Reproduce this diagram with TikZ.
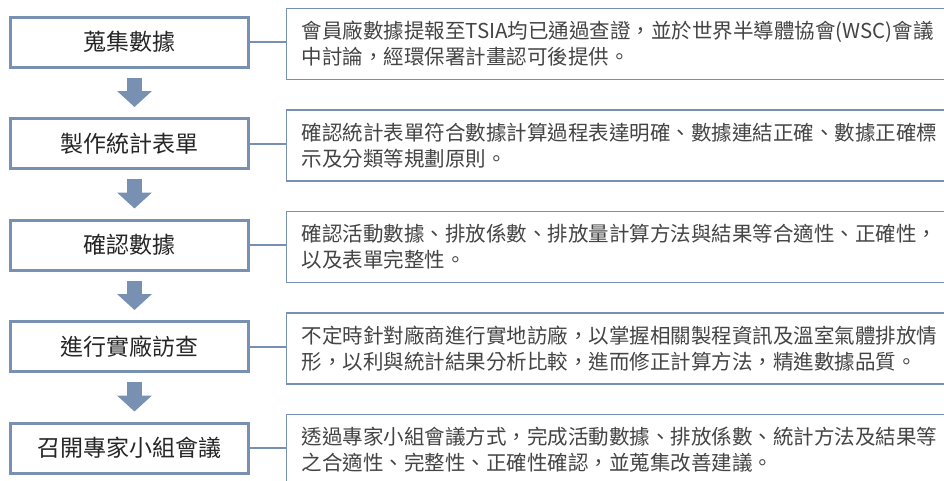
\documentclass[tikz,border=0pt]{standalone}
\usepackage{fontspec}
\setmainfont{Noto Sans CJK TC}
\usepackage{tikz}
\usetikzlibrary{arrows.meta,positioning}
\definecolor{StepBlue}{HTML}{7890B2}
\definecolor{InkGray}{HTML}{262626}
\definecolor{NoteGray}{HTML}{444444}

\begin{document}
\begin{tikzpicture}[
  x=1pt,y=1pt,
  node distance=48.5pt and 36pt,
  stepbox/.style={draw=StepBlue,line width=3pt,fill=white,minimum width=238pt,minimum height=50pt,
    font=\fontsize{23}{27}\selectfont,text=InkGray},
  notebox/.style={draw=StepBlue,line width=1.3pt,fill=white,minimum width=680pt,minimum height=71pt,
    text width=650pt,align=left,inner xsep=12pt,font=\fontsize{20.5}{26}\selectfont,text=NoteGray},
  link/.style={draw=StepBlue,line width=2pt},
  blockarrow/.style={draw=StepBlue,line width=15pt,-{Triangle[width=34pt,length=16pt]}}
]
\clip (0,0) rectangle (944,-480);
\useasboundingbox (0,0) rectangle (944,-480);
\node[stepbox] (collect) at (129.5,-42) {蒐集數據};
\node[stepbox,below=of collect] (sheet) {製作統計表單};
\node[stepbox,below=of sheet] (check) {確認數據};
\node[stepbox,below=of check] (visit) {進行實廠訪查};
\node[stepbox,below=of visit] (panel) {召開專家小組會議};
\node[notebox,right=of collect,yshift=-2pt] (collectnote) {會員廠數據提報至TSIA均已通過查證，並於世界半導體協會(WSC)會議\\中討論，經環保署計畫認可後提供。};
\node[notebox,right=of sheet,yshift=-2pt] (sheetnote) {確認統計表單符合數據計算過程表達明確、數據連結正確、數據正確標\\示及分類等規劃原則。};
\node[notebox,right=of check,yshift=-2pt] (checknote) {確認活動數據、排放係數、排放量計算方法與結果等合適性、正確性，\\以及表單完整性。};
\node[notebox,right=of visit,yshift=-2pt] (visitnote) {不定時針對廠商進行實地訪廠，以掌握相關製程資訊及溫室氣體排放情\\形，以利與統計結果分析比較，進而修正計算方法，精進數據品質。};
\node[notebox,right=of panel,yshift=-2pt] (panelnote) {透過專家小組會議方式，完成活動數據、排放係數、統計方法及結果等\\之合適性、完整性、正確性確認，並蒐集改善建議。};
\draw[link] (collect.east)--(collect.east-|collectnote.west);
\draw[link] (sheet.east)--(sheet.east-|sheetnote.west);
\draw[link] (check.east)--(check.east-|checknote.west);
\draw[link] (visit.east)--(visit.east-|visitnote.west);
\draw[link] (panel.east)--(panel.east-|panelnote.west);
\draw[blockarrow] ([xshift=5pt,yshift=-9pt]collect.south)--([xshift=5pt,yshift=10pt]sheet.north);
\draw[blockarrow] ([xshift=5pt,yshift=-9pt]sheet.south)--([xshift=5pt,yshift=10pt]check.north);
\draw[blockarrow] ([xshift=5pt,yshift=-9pt]check.south)--([xshift=5pt,yshift=10pt]visit.north);
\draw[blockarrow] ([xshift=5pt,yshift=-9pt]visit.south)--([xshift=5pt,yshift=10pt]panel.north);
\end{tikzpicture}
\end{document}
